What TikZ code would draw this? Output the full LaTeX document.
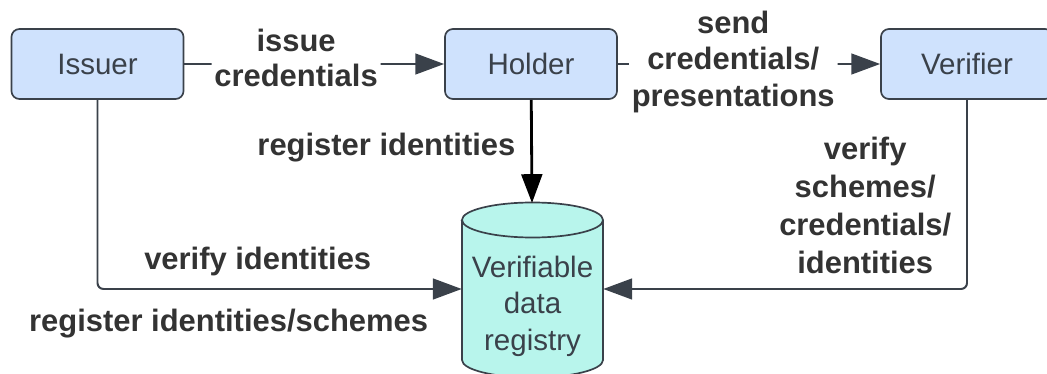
\documentclass[tikz,border=0pt]{standalone}
\usepackage{fontspec}
\setmainfont{Liberation Sans}
\usepackage{xcolor}
\usetikzlibrary{arrows.meta, positioning, calc}
\definecolor{lineg}{HTML}{3A414A}
\definecolor{boxblue}{HTML}{CFE2FD}
\definecolor{dbteal}{HTML}{B8F5EC}
\definecolor{lblg}{HTML}{333333}

\begin{document}
\begin{tikzpicture}[x=0.025cm, y=-0.025cm, >={Triangle[length=0.72cm, width=0.52cm]},
  party/.style={draw=lineg, line width=1.2pt, fill=boxblue, rounded corners=0.2cm, minimum width=4.3cm, minimum height=1.75cm, text=lineg, font=\fontsize{21}{26}\selectfont},
  lbl/.style={text=lblg, font=\fontsize{22}{24.5}\selectfont\bfseries, align=center, inner sep=2pt},
  conn/.style={draw=lineg, line width=1.4pt, ->, rounded corners=0.15cm}]
  \useasboundingbox (0,0) rectangle (1047,374);
  \node[party] (issuer) at (97.5,64) {Issuer};
  \node[party] (holder) at (531,64) {Holder};
  \node[party] (verifier) at (967,64) {Verifier};
  % registry drawn as a cylinder
  \filldraw[draw=lineg, line width=1.2pt, fill=dbteal] (462,220) -- (462,360) arc[start angle=180, end angle=360, x radius=1.7625cm, y radius=0.4375cm] -- (603,220) arc[start angle=0, end angle=180, x radius=1.7625cm, y radius=0.4375cm] -- cycle;
  \draw[lineg, line width=1.2pt] (462,220) arc[start angle=180, end angle=360, x radius=1.7625cm, y radius=0.4375cm];
  \node[minimum width=3.525cm, inner sep=0pt, align=center, text=lineg, font=\fontsize{21}{26}\selectfont] (registry) at (532.5,306) {Verifiable\\data\\registry};
  \coordinate (regtop) at (532,203);
  \draw[conn] (issuer) -- node[lbl, fill=white, pos=0.43, yshift=0.15cm] {issue\\credentials} (holder);
  \draw[conn] (holder) -- node[lbl, fill=white, pos=0.44, yshift=0.05cm, font=\fontsize{22}{26}\selectfont\bfseries] {send\\credentials/\\presentations} (verifier);
  \draw[black, line width=2pt, ->] (holder) -- node[lbl, left=0.3cm, pos=0.46] {register identities} (regtop);
  \draw[conn] (issuer) |- node[lbl, above=0.23cm, pos=0.72] {verify identities} node[lbl, below=0.4cm, pos=0.68] {register identities/schemes} ([yshift=0.425cm]registry.west);
  \draw[conn] (verifier) |- node[lbl, left=0.3cm, pos=0.28, font=\fontsize{22}{27}\selectfont\bfseries] {verify\\schemes/\\credentials/\\identities} ([yshift=0.425cm]registry.east);
\end{tikzpicture}
\end{document}
